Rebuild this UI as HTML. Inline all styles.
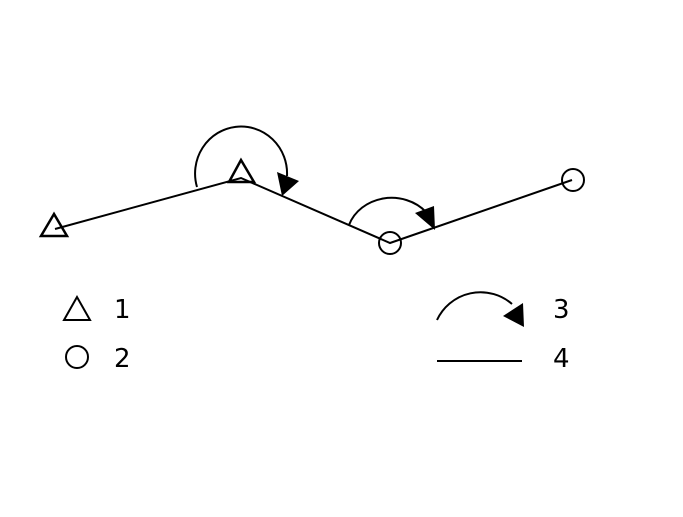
<!DOCTYPE html>
<html><head><style>body{margin:0;background:#fff}svg text{font-family:"DejaVu Sans","Liberation Sans",sans-serif;font-size:26px}</style></head>
<body>
<svg width="683" height="512" viewBox="0 0 683 512" xmlns="http://www.w3.org/2000/svg">
<g fill="none" stroke="#000" stroke-width="2">
<polyline points="55,229 241,178 390,243 572,180"/>
<polygon points="54,214 41,236 67,236" stroke-width="2.5"/>
<polygon points="241,160 229,182 254,182" stroke-width="2.5"/>
<circle cx="390" cy="243" r="11"/>
<circle cx="573" cy="180" r="11"/>
<path d="M197,187 A46,47 0 1 1 287,176"/>
<path d="M349,225 A45,40 0 0 1 426,212"/>
<polygon points="77,297 64,320 90,320"/>
<circle cx="77" cy="357" r="11"/>
<path d="M437,320 A48,48 0 0 1 512,304"/>
<line x1="437" y1="361" x2="522" y2="361"/>
</g>
<g fill="#000">
<polygon points="277,172 299,181 282,196"/>
<polygon points="415,213 434,206 435,230"/>
<polygon points="503,316 523,303 524,327"/>
</g>
<text x="114" y="318">1</text>
<text x="114" y="367">2</text>
<text x="553" y="318">3</text>
<text x="553" y="367">4</text>
</svg>
</body></html>
